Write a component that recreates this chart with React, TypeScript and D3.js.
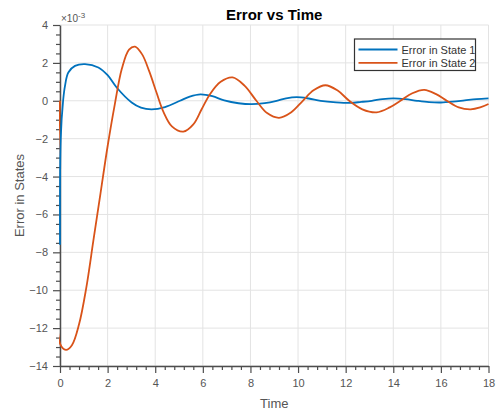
import * as React from 'react'
import * as d3 from 'd3'

// values, error scaled by 1e3
const state1T = [0, 0.03, 0.13, 0.21, 0.35, 0.63, 1.05, 1.61, 2.0, 2.38, 3.01, 3.4, 3.85, 4.41, 5.04, 5.45, 5.9, 6.4, 6.9, 7.5, 8.05, 8.6, 9.1, 9.5, 9.95, 10.45, 10.95, 11.6, 12.2, 12.65, 13.1, 13.55, 14.0, 14.5, 15.0, 15.5, 16.0, 16.5, 17.0, 17.5, 18.0]
const state1V = [-7.6, -2.0, 0, 0.79, 1.49, 1.84, 1.93, 1.76, 1.35, 0.7, -0.09, -0.36, -0.45, -0.33, 0, 0.22, 0.34, 0.24, 0.02, -0.13, -0.18, -0.12, 0, 0.13, 0.19, 0.12, 0, -0.08, -0.11, -0.06, 0, 0.09, 0.13, 0.09, 0, -0.07, -0.09, -0.05, 0.02, 0.09, 0.13]

const state2T = [0, 0.01, 0.25, 0.5, 0.8, 1.1, 1.4, 1.7, 2.0, 2.3, 2.6, 2.9, 3.15, 3.45, 3.75, 4.05, 4.35, 4.7, 5.18, 5.6, 5.95, 6.3, 6.75, 7.25, 7.75, 8.25, 8.7, 9.2, 9.7, 10.2, 10.65, 11.15, 11.65, 12.15, 12.7, 13.3, 13.85, 14.3, 14.8, 15.3, 15.8, 16.25, 16.75, 17.25, 17.65, 18.0]
const state2V = [0, -12.85, -13.15, -12.9, -11.8, -9.9, -7.4, -4.9, -2.4, -0.2, 1.7, 2.7, 2.86, 2.45, 1.55, 0.45, -0.6, -1.35, -1.63, -1.25, -0.45, 0.35, 1.0, 1.23, 0.8, 0.0, -0.65, -0.9, -0.62, 0.0, 0.55, 0.82, 0.55, 0.0, -0.45, -0.61, -0.35, 0.0, 0.4, 0.58, 0.35, 0.0, -0.35, -0.45, -0.35, -0.17]

const xTicks = [0, 2, 4, 6, 8, 10, 12, 14, 16, 18]
const yTicks = [-14, -12, -10, -8, -6, -4, -2, 0, 2, 4]
const seriesNames = ['Error in State 1', 'Error in State 2']
const colors = ['#0072BD', '#D95319']

const W = 499
const H = 410

export default function App() {
  const svgRef = React.useRef<SVGSVGElement>(null)

  React.useEffect(() => {
    if (!svgRef.current) return
    const svg = d3.select(svgRef.current)
    svg.selectAll('*').remove()

    const left = 60
    const right = 488.5
    const top = 25
    const bottom = 366
    const font = 'Liberation Sans, Arial, sans-serif'
    const axisColor = '#4d4d4d'

    const x = d3.scaleLinear().domain([0, 18]).range([left, right])
    const y = d3.scaleLinear().domain([-14, 4]).range([bottom, top])

    svg.append('rect').attr('width', W).attr('height', H).attr('fill', '#fff')

    svg.append('clipPath').attr('id', 'plot-clip')
      .append('rect')
      .attr('x', left - 1).attr('y', top)
      .attr('width', right - left + 2).attr('height', bottom - top)

    // grid
    const grid = svg.append('g')
    xTicks.forEach((t) => {
      grid.append('line')
        .attr('x1', x(t)).attr('x2', x(t))
        .attr('y1', top).attr('y2', bottom)
        .attr('stroke', '#e3e3e3').attr('stroke-width', 1)
    })
    yTicks.forEach((t) => {
      grid.append('line')
        .attr('x1', left).attr('x2', right)
        .attr('y1', y(t)).attr('y2', y(t))
        .attr('stroke', '#e3e3e3').attr('stroke-width', 1)
    })

    // minor ticks
    const xMinor = d3.range(0, 18.001, 0.4).filter((v) => Math.abs(v / 2 - Math.round(v / 2)) > 1e-6)
    const yMinor = d3.range(-14, 4.001, 0.5).filter((v) => Math.abs(v / 2 - Math.round(v / 2)) > 1e-6)

    const xMinorAxis = svg.append('g').attr('transform', `translate(0,${bottom})`)
      .call(d3.axisBottom(x).tickValues(xMinor).tickSize(4).tickFormat(() => ''))
    const yMinorAxis = svg.append('g').attr('transform', `translate(${left},0)`)
      .call(d3.axisLeft(y).tickValues(yMinor).tickSize(4).tickFormat(() => ''))

    const xAxis = svg.append('g').attr('transform', `translate(0,${bottom})`)
      .call(d3.axisBottom(x).tickValues(xTicks).tickSize(7).tickSizeOuter(0).tickPadding(6))
    const yAxis = svg.append('g').attr('transform', `translate(${left},0)`)
      .call(d3.axisLeft(y).tickValues(yTicks).tickSize(7).tickSizeOuter(0).tickPadding(5))

    ;[xMinorAxis, yMinorAxis].forEach((a) => a.select('.domain').remove())
    ;[xMinorAxis, yMinorAxis, xAxis, yAxis].forEach((a) => {
      a.selectAll('line').attr('stroke', axisColor).attr('stroke-width', 1.2)
      a.select('.domain').attr('stroke', axisColor).attr('stroke-width', 1.5)
      a.selectAll('text').attr('fill', '#555').attr('font-family', font).attr('font-size', '11px')
    })

    // lines
    const line = d3.line<[number, number]>()
      .x((d) => x(d[0]))
      .y((d) => y(d[1]))
      .curve(d3.curveCatmullRom.alpha(0.5))

    const series: [number, number][][] = [
      state1T.map((t, i) => [t, state1V[i]]),
      state2T.map((t, i) => [t, state2V[i]]),
    ]
    const lines = svg.append('g').attr('clip-path', 'url(#plot-clip)')
    series.forEach((pts, i) => {
      lines.append('path')
        .datum(pts)
        .attr('d', line)
        .attr('fill', 'none')
        .attr('stroke', colors[i])
        .attr('stroke-width', 1.8)
    })

    // exponent label
    const ex = svg.append('text')
      .attr('x', left + 1).attr('y', 22)
      .attr('fill', '#555').attr('font-family', font).attr('font-size', '10px')
    ex.append('tspan').text('×10')
    ex.append('tspan').attr('dy', -4).attr('font-size', '8px').text('-3')

    // title
    svg.append('text')
      .attr('x', (left + right) / 2).attr('y', 20)
      .attr('text-anchor', 'middle')
      .attr('font-family', font).attr('font-size', '15px').attr('font-weight', 'bold')
      .attr('fill', '#000')
      .text('Error vs Time')

    // axis titles
    svg.append('text')
      .attr('x', (left + right) / 2).attr('y', 408)
      .attr('text-anchor', 'middle')
      .attr('font-family', font).attr('font-size', '13px').attr('fill', '#555')
      .text('Time')

    svg.append('text')
      .attr('transform', `translate(24,${(top + bottom) / 2}) rotate(-90)`)
      .attr('text-anchor', 'middle')
      .attr('font-family', font).attr('font-size', '13px').attr('fill', '#555')
      .text('Error in States')

    // legend
    const lg = svg.append('g').attr('transform', 'translate(354.5,39)')
    lg.append('rect')
      .attr('width', 121).attr('height', 31.5)
      .attr('fill', '#fff').attr('stroke', '#333').attr('stroke-width', 1.2)
    seriesNames.forEach((name, i) => {
      const ly = 10.5 + i * 13.3
      lg.append('line')
        .attr('x1', 4).attr('x2', 43)
        .attr('y1', ly).attr('y2', ly)
        .attr('stroke', colors[i]).attr('stroke-width', 1.8)
      lg.append('text')
        .attr('x', 47).attr('y', ly)
        .attr('dominant-baseline', 'central')
        .attr('font-family', font).attr('font-size', '11px').attr('fill', '#333')
        .text(name)
    })
  }, [])

  return (
    <div style={{ position: 'absolute', left: 0, top: 0 }}>
      <svg ref={svgRef} width={W} height={H} style={{ display: 'block' }} />
    </div>
  )
}
